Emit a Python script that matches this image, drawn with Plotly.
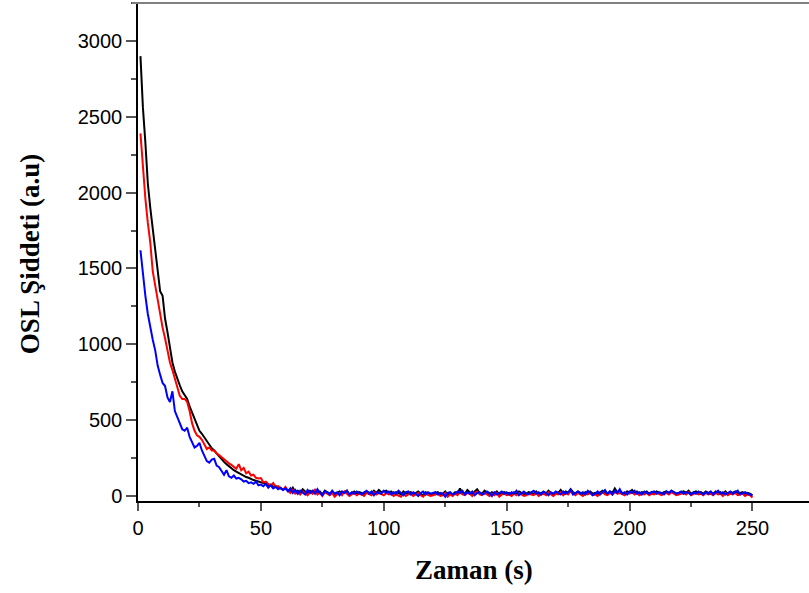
import plotly.graph_objects as go

time_s = list(range(1, 251))

black_head = [2900, 2560, 2330, 2060, 1900, 1760, 1640, 1480, 1350, 1320,
              1170, 1080, 970, 880, 820, 770, 730, 690, 665, 640,
              590, 550, 510, 460, 430, 410, 385, 360, 335, 315,
              300, 280, 260, 240, 225, 210, 195, 185, 170, 160,
              150, 140, 130, 125, 120, 110, 105, 100, 95, 90,
              85, 80, 70, 75, 60, 65, 55, 50, 45, 48]
black_tail = [40, 30, 55, 25, 35, 20, 45, 30, 15, 35,
              25, 40, 20, 30, 10, 35, 25, 15, 30, 5,
              20, 30, 15, 25, 35, 10, 20, 30, 15, 25,
              20, 10, 30, 25, 15, 35, 20, 40, 25, 30,
              35, 20, 30, 15, 25, 20, 10, 30, 15, 20,
              25, 10, 20, 30, 15, 5, 25, 20, 10, 15,
              20, 25, 10, 15, 30, 5, 20, 10, 25, 15,
              50, 20, 15, 40, 25, 10, 30, 45, 20, 15,
              35, 20, 10, 25, 15, 30, 10, 20, 25, 15,
              20, 10, 25, 15, 30, 20, 10, 15, 25, 20,
              15, 30, 10, 20, 25, 15, 35, 20, 10, 25,
              20, 40, 15, 30, 20, 45, 25, 15, 30, 20,
              10, 25, 20, 30, 15, 20, 10, 25, 35, 20,
              15, 30, 20, 50, 25, 35, 20, 15, 30, 25,
              40, 20, 30, 15, 25, 20, 30, 15, 25, 20,
              30, 20, 15, 25, 30, 20, 35, 25, 15, 20,
              25, 30, 20, 35, 15, 25, 30, 20, 25, 15,
              30, 20, 25, 15, 30, 20, 25, 10, 30, 15,
              25, 20, 30, 15, 20, 25, 10, 20, 15, 5]

red_head = [2390, 2150, 1960, 1800, 1670, 1480, 1380, 1310, 1200, 1110,
            1040, 950, 880, 830, 770, 720, 660, 640, 640, 620,
            560, 480, 430, 400, 390, 370, 340, 310, 320, 300,
            300, 280, 270, 255, 245, 230, 215, 205, 190, 180,
            210, 170, 185, 150, 160, 135, 140, 120, 115, 118,
            90, 95, 80, 70, 85, 60, 65, 55, 40, 60]
red_tail = [35, 20, 40, 15, 25, 10, 30, 20, 5, 25,
            15, 45, 10, 20, 0, 25, 15, 5, 20, -5,
            10, 20, 5, 30, 15, 0, 10, 20, 5, 15,
            10, 0, 20, 15, 5, 25, 10, 20, 15, 5,
            20, 10, 15, 0, 10, 5, -5, 15, 0, 10,
            15, 0, 10, 20, 5, -5, 15, 10, 0, 5,
            10, 15, 0, 5, 20, -5, 10, 0, 15, 5,
            25, 10, 5, 20, 15, 0, 20, 30, 10, 5,
            20, 10, 0, 15, 5, 20, -5, 10, 15, 5,
            10, 0, 15, 5, 20, 10, 0, 5, 15, 10,
            5, 20, 0, 10, 15, 5, 25, 10, 0, 15,
            10, 25, 5, 20, 10, 30, 15, 5, 20, 10,
            0, 15, 10, 20, 5, 10, 0, 15, 25, 10,
            5, 20, 10, 25, 15, 20, 10, 5, 20, 15,
            25, 10, 20, 5, 15, 10, 20, 5, 15, 10,
            20, 10, 5, 15, 20, 10, 25, 15, 5, 10,
            15, 20, 10, 25, 5, 15, 20, 10, 15, 5,
            20, 10, 15, 5, 20, 10, 15, 0, 20, 5,
            15, 10, 20, 5, 10, 15, 0, 10, 5, -10]

blue_head = [1620, 1450, 1320, 1200, 1100, 1030, 960, 860, 800, 745,
             725, 650, 620, 690, 560, 520, 480, 440, 430, 450,
             390, 350, 320, 330, 350, 300, 270, 230, 220, 240,
             245, 200, 190, 160, 140, 170, 130, 120, 135, 115,
             120, 110, 95, 100, 85, 90, 80, 95, 70, 75,
             65, 80, 55, 70, 50, 60, 45, 55, 40, 50]
blue_tail = [30, 50, 20, 40, 15, 35, 25, 10, 40, 20,
             35, 15, 45, 20, 5, 30, 25, 10, 35, 15,
             25, 5, 30, 20, 35, 10, 25, 15, 30, 20,
             10, 25, 35, 15, 30, 5, 25, 20, 15, 35,
             20, 30, 10, 25, 15, 35, 20, 5, 25, 30,
             10, 25, 15, 0, 20, 30, 10, 25, 15, 20,
             25, 10, 20, 15, -5, 20, 25, 10, 15, 30,
             20, 35, 10, 25, 15, 30, 5, 20, 25, 10,
             15, 30, 20, 0, 25, 10, 20, 30, 15, 25,
             10, 25, 15, 35, 5, 20, 30, 15, 10, 25,
             35, 15, 25, 10, 30, 20, 5, 25, 15, 30,
             20, 10, 30, 15, 25, 40, 10, 20, 30, 15,
             25, 10, 35, 20, 5, 15, 30, 10, 25, 40,
             15, 30, 10, 35, 20, 45, 15, 25, 10, 30,
             20, 35, 15, 25, 10, 30, 20, 15, 25, 30,
             15, 25, 20, 10, 30, 20, 35, 25, 15, 20,
             30, 15, 25, 20, 10, 25, 15, 30, 20, 10,
             25, 15, 30, 10, 20, 35, 15, 25, 10, 20,
             30, 15, 25, 35, 10, 20, 25, 15, 10, 5]

black_vals = black_head + black_tail
red_vals = red_head + red_tail
blue_vals = blue_head + blue_tail

x_ticks = [0, 50, 100, 150, 200, 250]
y_ticks = [0, 500, 1000, 1500, 2000, 2500, 3000]
x_title = "Zaman (s)"
y_title = "OSL Şiddeti (a.u)"

fig = go.Figure()
for vals, col in [(black_vals, "#000000"), (red_vals, "#ff0000"), (blue_vals, "#0000ff")]:
    fig.add_trace(go.Scatter(x=time_s, y=vals, mode="lines",
                             line=dict(color=col, width=2), showlegend=False))

fig.update_layout(
    width=809, height=593,
    margin=dict(l=138, r=0, t=3, b=92, autoexpand=False),
    paper_bgcolor="white", plot_bgcolor="white",
    font=dict(family="Liberation Sans, Arial", size=20, color="black"),
)
fig.update_xaxes(
    range=[0, 273], tickvals=x_ticks, ticks="outside", ticklen=8, tickwidth=1.5,
    tickcolor="#555555", showline=True, linecolor="black", linewidth=1.5,
    showgrid=False, zeroline=False, automargin=False,
    tickfont=dict(size=20),
    minor=dict(dtick=25, tick0=0, ticks="outside", ticklen=4, tickwidth=1.5, tickcolor="#555555"),
)
fig.update_yaxes(
    range=[-33, 3250], tickvals=y_ticks, ticks="outside", ticklen=10, tickwidth=1.5,
    tickcolor="#555555", showline=True, linecolor="black", linewidth=1.5,
    showgrid=False, zeroline=False, automargin=False,
    tickfont=dict(size=20),
    minor=dict(dtick=250, tick0=0, ticks="outside", ticklen=5, tickwidth=1.5, tickcolor="#555555"),
)
fig.add_shape(type="line", xref="paper", yref="paper", x0=-0.009, x1=1, y0=1, y1=1,
              line=dict(color="#808080", width=2))

title_font = dict(family="Liberation Serif, Times New Roman", size=27, color="black")
fig.add_annotation(text="<b>" + x_title + "</b>", xref="paper", yref="paper",
                   x=0.5, y=-0.138, xanchor="center", yanchor="middle",
                   showarrow=False, font=title_font)
fig.add_annotation(text="<b>" + y_title + "</b>", xref="paper", yref="paper",
                   x=-0.16, y=0.495, xanchor="center", yanchor="middle",
                   textangle=-90, showarrow=False, font=title_font)

fig.write_html("out.html", config={"displayModeBar": False},
               post_script="document.body.style.margin='0';document.body.style.overflow='hidden';")
